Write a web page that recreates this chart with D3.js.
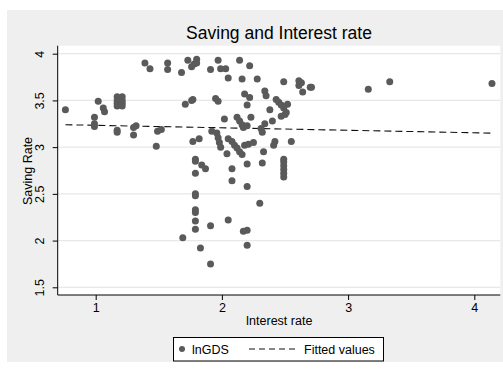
<!DOCTYPE html>
<html>
<head>
<meta charset="utf-8">
<script src="https://cdn.jsdelivr.net/npm/d3@7"></script>
<style>
 body { margin:0; background:#fff; }
 text { font-family: Arial, "Liberation Sans", sans-serif; fill:#000; }
</style>
</head>
<body>
<script>

// interest rate (x) and log saving rate (y)
var interestRate = [
 0.76, 0.99, 0.99, 0.99, 1.02, 1.06, 1.07,
 1.17, 1.17, 1.17, 1.17, 1.21, 1.21, 1.21, 1.21, 1.17, 1.17,
 1.30, 1.30, 1.32, 1.39, 1.43, 1.48, 1.49, 1.52, 1.57, 1.57,
 1.68, 1.69, 1.71, 1.73, 1.76, 1.78, 1.80, 1.80, 1.76, 1.77,
 1.77, 1.82, 1.79, 1.79, 1.79, 1.84, 1.87,
 1.79, 1.79, 1.79, 1.79, 1.79, 1.79, 1.83, 1.91, 1.91,
 1.91, 1.92, 1.95, 1.97, 1.97, 1.99, 2.03, 2.05,
 1.96, 1.97, 1.98, 1.99, 2.02, 2.04, 2.05,
 2.05, 2.08, 2.10, 2.12, 2.14, 2.16, 2.08, 2.08,
 2.12, 2.14, 2.16, 2.17, 2.14, 2.16, 2.22,
 2.18, 2.22, 2.20, 2.20, 2.23,
 2.17, 2.20, 2.20, 2.20, 2.20, 2.18, 2.21, 2.25, 2.28,
 2.30, 2.32, 2.31, 2.32, 2.34, 2.33, 2.34, 2.35, 2.38, 2.40, 2.42, 2.41,
 2.43, 2.45, 2.47, 2.49, 2.50, 2.52, 2.51, 2.47, 2.49,
 2.49, 2.49, 2.49, 2.49, 2.49, 2.49, 2.55,
 2.61, 2.63, 2.61, 2.64, 2.70, 2.71, 3.16, 3.33, 4.14
]
var savingRate = [
 3.40, 3.32, 3.25, 3.22, 3.49, 3.42, 3.38,
 3.54, 3.50, 3.47, 3.44, 3.54, 3.50, 3.47, 3.44, 3.18, 3.16,
 3.13, 3.21, 3.23, 3.90, 3.84, 3.01, 3.17, 3.19, 3.90, 3.83,
 3.80, 2.03, 3.46, 3.93, 3.86, 3.89, 3.94, 3.90, 3.50, 3.51,
 3.06, 3.09, 2.87, 2.85, 2.72, 2.81, 2.77,
 2.50, 2.48, 2.33, 2.30, 2.21, 2.12, 1.92, 2.16, 1.75,
 3.83, 3.17, 3.52, 3.49, 3.93, 3.84, 3.84, 3.74,
 3.15, 3.10, 3.05, 3.00, 3.30, 2.93, 2.22,
 3.09, 3.06, 3.02, 2.99, 2.95, 2.92, 2.77, 2.64,
 3.32, 3.28, 3.24, 3.21, 3.93, 3.73, 3.87,
 3.57, 3.53, 3.45, 3.23, 3.32,
 2.10, 2.11, 2.58, 2.82, 1.95, 3.02, 3.03, 3.05, 3.73,
 2.40, 2.83, 3.20, 3.16, 3.25, 2.95, 3.60, 3.55, 3.40, 3.28, 3.06, 3.02,
 3.51, 3.48, 3.45, 3.42, 3.35, 3.46, 3.37, 3.33, 3.70,
 2.87, 2.84, 2.80, 2.76, 2.72, 2.68, 3.06,
 3.71, 3.69, 3.66, 3.59, 3.64, 3.64, 3.62, 3.70, 3.68
]

// linear fit, end points
var fitX = [0.76, 4.14]
var fitY = [3.24, 3.15]

var xTicks = [1, 2, 3, 4]
var yTicks = [1.5, 2, 2.5, 3, 3.5, 4]
var legendLabels = ['lnGDS', 'Fitted values']

var W = 503, H = 372
var plot = { left: 57.7, right: 500.3, top: 45.7, bottom: 295 }

var svg = d3.select('body').append('svg')
  .attr('width', W).attr('height', H)

// outer graph region
svg.append('rect').attr('x', 7).attr('y', 10).attr('width', 496).attr('height', 352)
  .attr('fill', '#efefef')
svg.append('rect').attr('x', plot.left).attr('y', plot.top)
  .attr('width', plot.right - plot.left).attr('height', plot.bottom - plot.top)
  .attr('fill', '#fff')

var x = d3.scaleLinear().domain([1, 4]).range([95.7, 474.3])
var y = d3.scaleLinear().domain([1.5, 4]).range([287.3, 53.7])

// grid
svg.append('g').selectAll('line').data(yTicks).enter().append('line')
  .attr('x1', plot.left).attr('x2', plot.right)
  .attr('y1', function(d) { return y(d) }).attr('y2', function(d) { return y(d) })
  .attr('stroke', '#e8e8e8').attr('stroke-width', 1.2)

// axes
var xAxis = svg.append('g').attr('transform', 'translate(0,' + plot.bottom + ')')
  .call(d3.axisBottom(x).tickValues(xTicks).tickSize(5).tickPadding(3).tickFormat(d3.format('d')))
xAxis.select('.domain').attr('d', 'M' + plot.left + ',0H' + plot.right)
xAxis.selectAll('text').attr('font-size', 12.5).style('font-family', 'Arial, "Liberation Sans", sans-serif')

var yAxis = svg.append('g').attr('transform', 'translate(' + plot.left + ',0)')
  .call(d3.axisLeft(y).tickValues(yTicks).tickSize(5).tickFormat(function(d) { return d }))
yAxis.select('.domain').attr('d', 'M0,' + plot.top + 'V' + plot.bottom)
yAxis.selectAll('text')
  .attr('x', null).attr('dy', null)
  .attr('text-anchor', 'middle')
  .attr('font-size', 12.5)
  .style('font-family', 'Arial, "Liberation Sans", sans-serif')
  .attr('transform', 'translate(-14,0) rotate(-90)')

// fitted line
svg.append('line')
  .attr('x1', x(fitX[0])).attr('y1', y(fitY[0]))
  .attr('x2', x(fitX[1])).attr('y2', y(fitY[1]))
  .attr('stroke', '#111').attr('stroke-width', 1.1)
  .attr('stroke-dasharray', '7,4')

// points
var pts = interestRate.map(function(v, i) { return { x: v, y: savingRate[i] } })
svg.append('g').selectAll('circle').data(pts).enter().append('circle')
  .attr('cx', function(d) { return x(d.x) })
  .attr('cy', function(d) { return y(d.y) })
  .attr('r', 3.5)
  .attr('fill', '#5a5a5a')

// titles
svg.append('text').attr('x', 279).attr('y', 39).attr('text-anchor', 'middle')
  .attr('font-size', 17.5).text('Saving and Interest rate')
svg.append('text').attr('x', 279).attr('y', 325).attr('text-anchor', 'middle')
  .attr('font-size', 12.5).text('Interest rate')
svg.append('text').attr('transform', 'translate(32,171) rotate(-90)')
  .attr('text-anchor', 'middle').attr('font-size', 12.5).text('Saving Rate')

// legend
var lg = svg.append('g')
lg.append('rect').attr('x', 173.5).attr('y', 337.5).attr('width', 210).attr('height', 23.5)
  .attr('fill', '#fff').attr('stroke', '#000').attr('stroke-width', 1)
lg.append('circle').attr('cx', 182).attr('cy', 349).attr('r', 3).attr('fill', '#5a5a5a')
lg.append('text').attr('x', 192).attr('y', 353.5).attr('font-size', 12.5).text(legendLabels[0])
lg.append('line').attr('x1', 249).attr('x2', 297).attr('y1', 349).attr('y2', 349)
  .attr('stroke', '#111').attr('stroke-width', 1.1).attr('stroke-dasharray', '6,4')
lg.append('text').attr('x', 304).attr('y', 353.5).attr('font-size', 12.5).text(legendLabels[1])

</script>
</body>
</html>
